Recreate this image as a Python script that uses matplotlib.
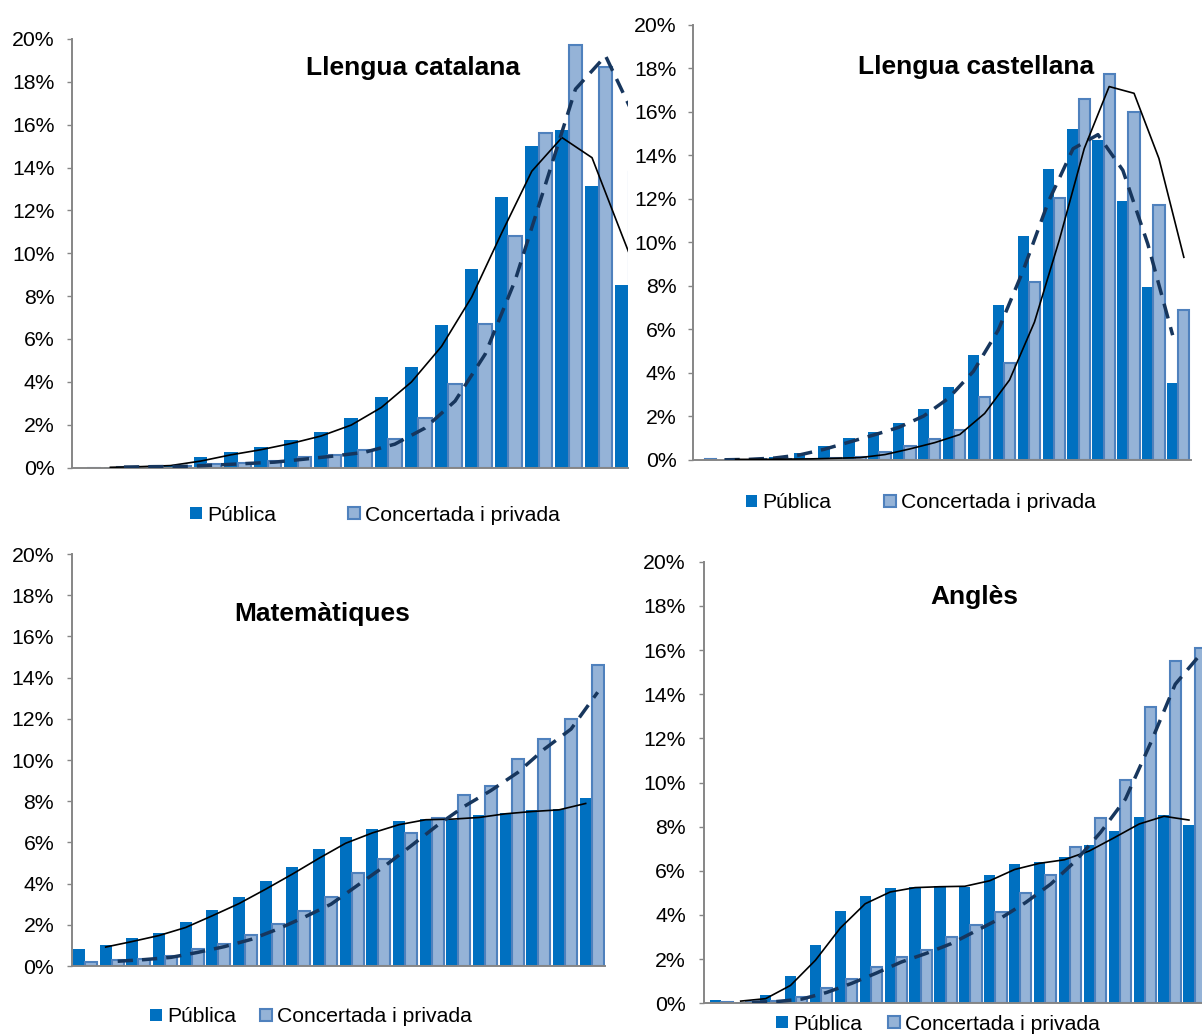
import matplotlib
matplotlib.use("Agg")
import matplotlib.pyplot as plt
from matplotlib.patches import Patch
import numpy as np

plt.rcParams['font.family'] = ['Liberation Sans', 'DejaVu Sans']

# ---------------- data (percent of pupils per score bin) ----------------
y_ticks = [0, 2, 4, 6, 8, 10, 12, 14, 16, 18, 20]
y_tick_labels = ['0%', '2%', '4%', '6%', '8%', '10%', '12%', '14%', '16%', '18%', '20%']
series_names = ['Pública', 'Concertada i privada']

# Llengua catalana
cat_pub = [0.0, 0.02, 0.05, 0.13, 0.47, 0.71, 0.95, 1.29, 1.65, 2.30,
           3.30, 4.67, 6.63, 9.26, 12.64, 15.02, 15.77, 13.14, 8.51, 6.0]
cat_conc = [0.0, 0.03, 0.04, 0.06, 0.16, 0.20, 0.30, 0.48, 0.60, 0.82,
            1.35, 2.32, 3.88, 6.69, 10.8, 15.6, 19.72, 18.7, 13.8, 5.0]
cat_pub_trend = [0.01, 0.04, 0.09, 0.30, 0.59, 0.83, 1.12, 1.47, 1.98, 2.80,
                 3.99, 5.65, 7.95, 10.95, 13.83, 15.40, 14.46, 10.83, 7.26]
cat_conc_trend = [0.02, 0.04, 0.05, 0.11, 0.18, 0.25, 0.39, 0.54, 0.71, 1.09,
                  1.84, 3.10, 5.29, 8.75, 13.20, 17.66, 19.21, 16.25, 9.40]

# Llengua castellana
cas_pub = [0.0, 0.01, 0.05, 0.12, 0.34, 0.64, 0.99, 1.31, 1.69, 2.34,
           3.34, 4.81, 7.14, 10.3, 13.4, 15.22, 14.7, 11.93, 7.95, 3.53]
cas_conc = [0.03, 0.02, 0.03, 0.04, 0.06, 0.10, 0.12, 0.38, 0.64, 0.95,
            1.38, 2.89, 4.47, 8.2, 12.04, 16.6, 17.73, 15.98, 11.74, 6.89]
cas_pub_trend = [0.01, 0.03, 0.09, 0.23, 0.49, 0.82, 1.15, 1.50, 2.02, 2.84,
                 4.08, 5.98, 8.72, 11.85, 14.31, 14.96, 13.32, 9.94, 5.74]
cas_conc_trend = [0.03, 0.03, 0.04, 0.05, 0.08, 0.11, 0.25, 0.51, 0.80, 1.17,
                  2.14, 3.68, 6.34, 10.12, 14.32, 17.17, 16.86, 13.86, 9.32]

# Matemàtiques
mat_pub = [0.81, 1.02, 1.36, 1.59, 2.15, 2.72, 3.33, 4.13, 4.79, 5.66,
           6.25, 6.67, 7.05, 7.15, 7.10, 7.32, 7.45, 7.55, 7.60, 8.17]
mat_conc = [0.18, 0.27, 0.34, 0.49, 0.83, 1.05, 1.52, 2.06, 2.67, 3.33,
            4.50, 5.18, 6.47, 7.20, 8.30, 8.74, 10.03, 11.02, 11.97, 14.60]
mat_pub_trend = [0.92, 1.19, 1.48, 1.87, 2.44, 3.03, 3.73, 4.46, 5.23, 5.96,
                 6.46, 6.86, 7.10, 7.13, 7.21, 7.39, 7.50, 7.58, 7.89]
mat_conc_trend = [0.23, 0.31, 0.42, 0.66, 0.94, 1.29, 1.79, 2.37, 3.00, 3.92,
                  4.84, 5.83, 6.84, 7.75, 8.52, 9.39, 10.53, 11.50, 13.29]

# Anglès
ang_pub = [0.13, 0.06, 0.36, 1.25, 2.65, 4.16, 4.86, 5.22, 5.25, 5.31,
           5.28, 5.82, 6.30, 6.38, 6.61, 7.18, 7.81, 8.42, 8.51, 8.08]
ang_conc = [0.04, 0.05, 0.10, 0.28, 0.69, 1.10, 1.63, 2.11, 2.41, 2.99,
            3.56, 4.15, 4.98, 5.81, 7.09, 8.39, 10.11, 13.40, 15.50, 16.08]
ang_pub_trend = [0.10, 0.21, 0.81, 1.95, 3.41, 4.51, 5.04, 5.24, 5.28, 5.30,
                 5.55, 6.06, 6.34, 6.50, 6.90, 7.50, 8.12, 8.47, 8.30]
ang_conc_trend = [0.05, 0.08, 0.19, 0.49, 0.90, 1.37, 1.87, 2.26, 2.70, 3.28,
                  3.86, 4.57, 5.40, 6.45, 7.74, 9.25, 11.76, 14.45, 15.79]

# ---------------- styling ----------------
PUB = '#0070C0'
CONC = '#95B3D7'
CONC_EDGE = '#4F81BD'
AXIS = '#868686'
SOLID = dict(color='black', lw=1.2, linestyle='-')
DASHED = dict(color='#17365D', lw=2.5, linestyle=(0, (4.4, 2.6)))

W, H = 1202, 1034
fig = plt.figure(figsize=(W / 100, H / 100), dpi=100)


def panel(box, xlim, pub, conc, pub_trend, conc_trend, pub_style, conc_style,
          title, title_xy, legend_xy, colspacing, pad):
    left, right, y0, y20 = box
    ax = fig.add_axes([left / W, 1 - y0 / H, (right - left) / W, (y0 - y20) / H])
    x = np.arange(len(pub))
    bw = 0.45
    ax.bar(x - bw / 2, pub, width=bw, color=PUB, linewidth=0, zorder=2)
    ax.bar(x + bw / 2, conc, width=bw, color=CONC, edgecolor=CONC_EDGE,
           linewidth=1.5, zorder=2)
    ax.plot(x[1:] - bw / 2, pub_trend, zorder=3, **pub_style)
    ax.plot(x[1:] + bw / 2, conc_trend, zorder=3, **conc_style)
    ax.set_xlim(*xlim)
    ax.set_ylim(0, 20)
    ax.set_yticks(y_ticks)
    ax.set_yticklabels(y_tick_labels)
    ax.set_xticks([])
    ax.tick_params(axis='y', direction='out', length=3.6, width=1.0,
                   color=AXIS, labelsize=15.3, pad=pad, labelcolor='black')
    for s in ('top', 'right'):
        ax.spines[s].set_visible(False)
    for s in ('left', 'bottom'):
        ax.spines[s].set_color(AXIS)
        ax.spines[s].set_linewidth(1.4)
    ax.patch.set_alpha(0)
    fig.text(title_xy[0] / W, 1 - title_xy[1] / H, title, ha='center',
             va='center', fontsize=19, fontweight='bold')
    handles = [Patch(facecolor=PUB, edgecolor='none', label=series_names[0]),
               Patch(facecolor=CONC, edgecolor=CONC_EDGE, linewidth=1.5,
                     label=series_names[1])]
    ax.legend(handles=handles, loc='center',
              bbox_to_anchor=(legend_xy[0] / W, 1 - legend_xy[1] / H),
              bbox_transform=fig.transFigure, ncol=2, frameon=False,
              fontsize=15.2, handlelength=0.55, handleheight=0.55,
              handletextpad=0.25, columnspacing=colspacing, borderpad=0,
              borderaxespad=0)
    return ax


panel((72, 628, 467.5, 39), (-0.5, 17.97), cat_pub, cat_conc,
      cat_pub_trend, cat_conc_trend, SOLID, DASHED,
      'Llengua catalana', (413, 68), (375, 515), 3.4, 9.0)

panel((692.7, 1190.7, 460, 25), (-0.5, 19.5), cas_pub, cas_conc,
      cas_pub_trend, cas_conc_trend, DASHED, SOLID,
      'Llengua castellana', (976, 67), (921, 503), 2.5, 8.0)

panel((71.7, 605, 966, 554), (-0.5, 19.5), mat_pub, mat_conc,
      mat_pub_trend, mat_conc_trend, SOLID, DASHED,
      'Matemàtiques', (322, 614), (311, 1017), 1.15, 9.0)

panel((704, 1202, 1003.3, 561.7), (-0.7, 19.3), ang_pub, ang_conc,
      ang_pub_trend, ang_conc_trend, SOLID, DASHED,
      'Anglès', (974, 597), (938, 1024), 1.25, 9.5)

fig.savefig('out.png', dpi=100, facecolor='white')
